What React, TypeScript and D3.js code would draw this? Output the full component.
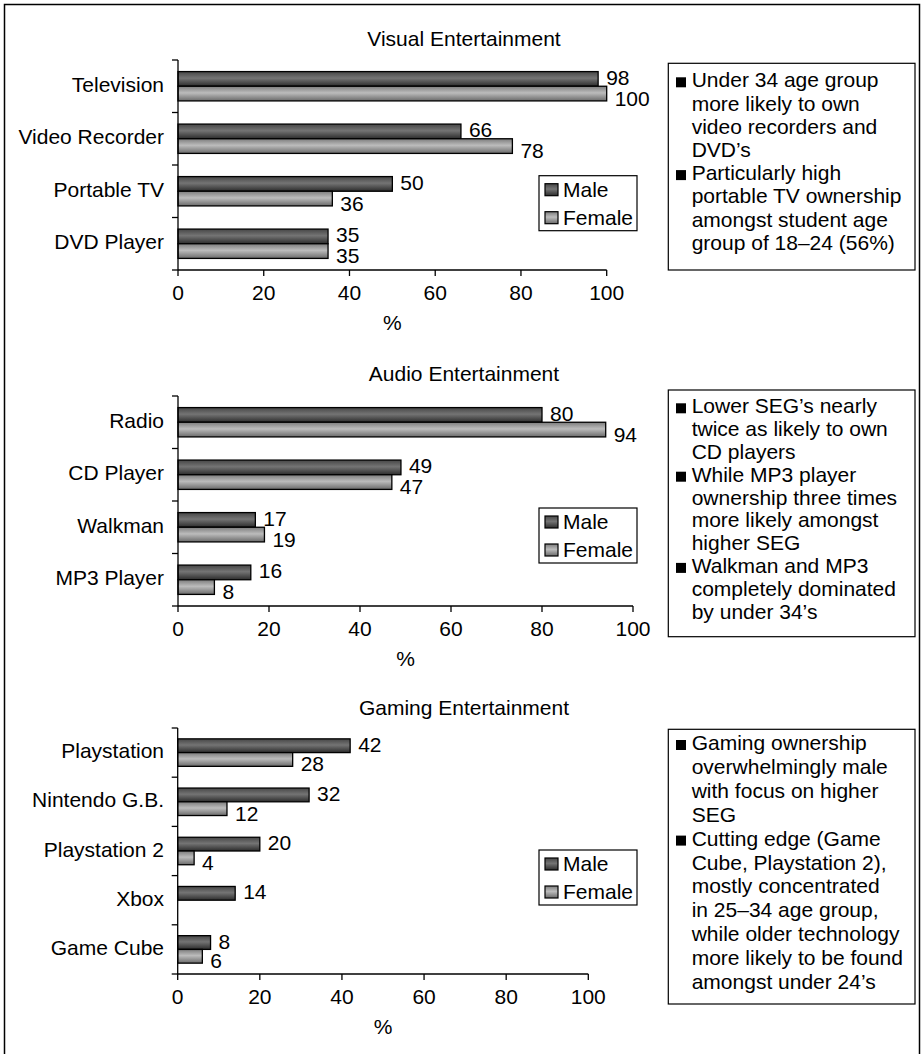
import React from "react";
import * as d3 from "d3";

// ---------- DATA ----------
const seriesNames = ["Male", "Female"];
const xTicks = [0, 20, 40, 60, 80, 100];

const visualTitle = "Visual Entertainment";
const visualCategories = ["Television", "Video Recorder", "Portable TV", "DVD Player"];
const visualMale = [98, 66, 50, 35];
const visualFemale = [100, 78, 36, 35];

const audioTitle = "Audio Entertainment";
const audioCategories = ["Radio", "CD Player", "Walkman", "MP3 Player"];
const audioMale = [80, 49, 17, 16];
const audioFemale = [94, 47, 19, 8];

const gamingTitle = "Gaming Entertainment";
const gamingCategories = ["Playstation", "Nintendo G.B.", "Playstation 2", "Xbox", "Game Cube"];
const gamingMale = [42, 32, 20, 14, 8];
const gamingFemale: (number | null)[] = [28, 12, 4, null, 6];

const visualNotes = [
  ["Under 34 age group", "more likely to own", "video recorders and", "DVD\u2019s"],
  ["Particularly high", "portable TV ownership", "amongst student age", "group of 18\u201324 (56%)"],
];
const audioNotes = [
  ["Lower SEG\u2019s nearly", "twice as likely to own", "CD players"],
  ["While MP3 player", "ownership three times", "more likely amongst", "higher SEG"],
  ["Walkman and MP3", "completely dominated", "by under 34\u2019s"],
];
const gamingNotes = [
  ["Gaming ownership", "overwhelmingly male", "with focus on higher", "SEG"],
  [
    "Cutting edge (Game",
    "Cube, Playstation 2),",
    "mostly concentrated",
    "in 25\u201334 age group,",
    "while older technology",
    "more likely to be found",
    "amongst under 24\u2019s",
  ],
];

// ---------- LAYOUT ----------
const W = 923;
const H = 1054;
const FONT = "'Liberation Sans', Arial, Helvetica, sans-serif";
const FS = 21;

type Panel = {
  title: string;
  categories: string[];
  male: (number | null)[];
  female: (number | null)[];
  notes: string[][];
  x0: number;
  x1: number;
  y0: number;
  y1: number;
  titleY: number;
  legendTop: number;
  box: { x0: number; y0: number; x1: number; y1: number; base: number; lh: number };
};

const panels: Panel[] = [
  {
    title: visualTitle,
    categories: visualCategories,
    male: visualMale,
    female: visualFemale,
    notes: visualNotes,
    x0: 178,
    x1: 606.7,
    y0: 60,
    y1: 270,
    titleY: 38,
    legendTop: 175.7,
    box: { x0: 668.3, y0: 63.3, x1: 915, y1: 270, base: 87.3, lh: 23.2 },
  },
  {
    title: audioTitle,
    categories: audioCategories,
    male: audioMale,
    female: audioFemale,
    notes: audioNotes,
    x0: 178,
    x1: 633,
    y0: 396,
    y1: 606,
    titleY: 373,
    legendTop: 508,
    box: { x0: 668.3, y0: 390, x1: 915, y1: 636.7, base: 413.3, lh: 22.8 },
  },
  {
    title: gamingTitle,
    categories: gamingCategories,
    male: gamingMale,
    female: gamingFemale,
    notes: gamingNotes,
    x0: 177.7,
    x1: 588.3,
    y0: 728,
    y1: 974,
    titleY: 707,
    legendTop: 850,
    box: { x0: 668.3, y0: 729.3, x1: 915, y1: 1004, base: 750, lh: 23.9 },
  },
];

function ChartPanel({ p }: { p: Panel }) {
  const x = d3.scaleLinear().domain([0, 100]).range([p.x0, p.x1]);
  const y = d3.scaleBand().domain(p.categories).range([p.y0, p.y1]).paddingInner(0).paddingOuter(0);
  const sub = d3
    .scaleBand()
    .domain(seriesNames)
    .range([0, y.bandwidth()])
    .paddingInner(0)
    .paddingOuter(0.79);
  const boundaries = [...p.categories.map((c) => y(c) as number), p.y1];
  const values = [p.male, p.female];
  const fills = ["url(#gMale)", "url(#gFemale)"];
  const labelDy = [-1.5, 4.5];

  const lines: { text: string; bullet: boolean }[] = [];
  p.notes.forEach((g) => g.forEach((t, i) => lines.push({ text: t, bullet: i === 0 })));

  return (
    <g>
      <text x={464} y={p.titleY + 7.5} textAnchor="middle" fontSize={FS}>
        {p.title}
      </text>
      {/* bars */}
      {p.categories.map((c, ci) => (
        <g key={c}>
          {seriesNames.map((s, si) => {
            const v = values[si][ci];
            if (v === null || v === undefined) return null;
            const by = (y(c) as number) + (sub(s) as number);
            const bh = sub.bandwidth();
            return (
              <g key={s}>
                <rect
                  x={x(0)}
                  y={by}
                  width={x(v) - x(0)}
                  height={bh}
                  fill={fills[si]}
                  stroke="#000"
                  strokeWidth={1.3}
                />
                <text x={x(v) + 8} y={by + bh / 2 + 7.5 + labelDy[si]} fontSize={FS}>
                  {v}
                </text>
              </g>
            );
          })}
          <text
            x={164}
            y={(y(c) as number) + y.bandwidth() / 2 + 5.5}
            textAnchor="end"
            fontSize={FS}
          >
            {c}
          </text>
        </g>
      ))}
      {/* axes */}
      <line x1={p.x0} x2={p.x0} y1={p.y0} y2={p.y1} stroke="#000" strokeWidth={1.3} />
      <line x1={p.x0} x2={p.x1} y1={p.y1} y2={p.y1} stroke="#000" strokeWidth={1.3} />
      {boundaries.map((b, i) => (
        <line key={"yt" + i} x1={p.x0 - 6} x2={p.x0} y1={b} y2={b} stroke="#000" strokeWidth={1.3} />
      ))}
      {xTicks.map((t) => (
        <g key={"xt" + t}>
          <line x1={x(t)} x2={x(t)} y1={p.y1} y2={p.y1 + 6} stroke="#000" strokeWidth={1.3} />
          <text x={x(t)} y={p.y1 + 30} textAnchor="middle" fontSize={FS}>
            {t}
          </text>
        </g>
      ))}
      <text x={(p.x0 + p.x1) / 2} y={p.y1 + 60} textAnchor="middle" fontSize={FS}>
        %
      </text>
      {/* legend */}
      <g>
        <rect x={539} y={p.legendTop} width={98} height={55} fill="#fff" stroke="#000" strokeWidth={1.2} />
        {seriesNames.map((s, si) => {
          const cy = p.legendTop + 13.5 + si * 28;
          return (
            <g key={s}>
              <rect x={545} y={cy - 5.5} width={13} height={12} fill={fills[si]} stroke="#000" strokeWidth={1.2} />
              <text x={563} y={cy + 7.5} fontSize={FS}>
                {s}
              </text>
            </g>
          );
        })}
      </g>
      {/* notes box */}
      <rect
        x={p.box.x0}
        y={p.box.y0}
        width={p.box.x1 - p.box.x0}
        height={p.box.y1 - p.box.y0}
        fill="#fff"
        stroke="#000"
        strokeWidth={1.2}
      />
      {lines.map((l, i) => {
        const base = p.box.base + i * p.box.lh;
        return (
          <g key={"n" + i}>
            {l.bullet && <rect x={676} y={base - 10} width={10} height={10} fill="#000" />}
            <text x={691.7} y={base} fontSize={FS}>
              {l.text}
            </text>
          </g>
        );
      })}
    </g>
  );
}

export default function App() {
  return (
    <svg
      width={W}
      height={H}
      style={{ position: "absolute", left: 0, top: 0, background: "#fff" }}
      fontFamily={FONT}
      fill="#000"
    >
      <defs>
        <linearGradient id="gMale" x1="0" y1="0" x2="0" y2="1">
          <stop offset="0" stopColor="#464646" />
          <stop offset="0.45" stopColor="#747474" />
          <stop offset="1" stopColor="#2c2c2c" />
        </linearGradient>
        <linearGradient id="gFemale" x1="0" y1="0" x2="0" y2="1">
          <stop offset="0" stopColor="#7c7c7c" />
          <stop offset="0.45" stopColor="#bcbcbc" />
          <stop offset="1" stopColor="#6a6a6a" />
        </linearGradient>
      </defs>
      <rect x={0} y={0} width={W} height={H} fill="#fff" />
      <rect x={4.5} y={4.5} width={915} height={H + 10} fill="none" stroke="#000" strokeWidth={1.5} />
      {panels.map((p) => (
        <ChartPanel key={p.title} p={p} />
      ))}
    </svg>
  );
}
